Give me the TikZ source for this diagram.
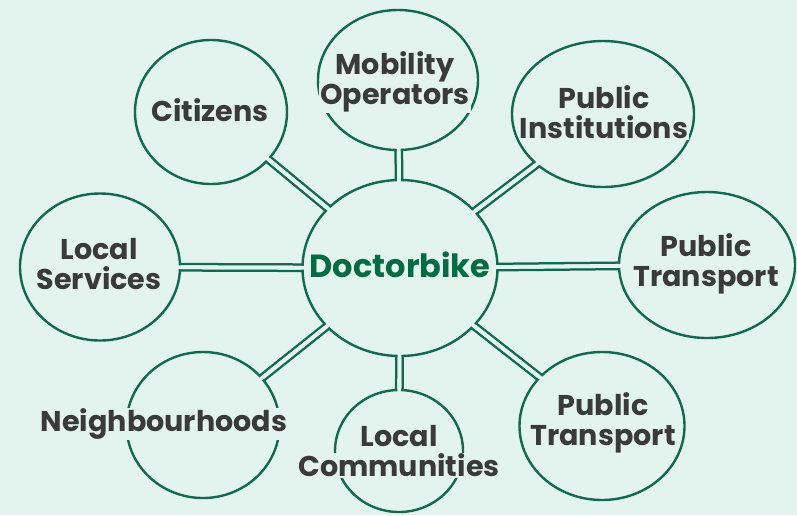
\documentclass[tikz,border=0pt]{standalone}
\usepackage{fontspec}
\setmainfont{Poppins}
\usetikzlibrary{shapes.geometric}
\definecolor{bgc}{HTML}{E3F4EE}
\definecolor{edge}{HTML}{13694F}
\definecolor{txt}{HTML}{3A3A3A}
\definecolor{docg}{HTML}{056B45}
\pgfdeclarelayer{back}\pgfdeclarelayer{front}\pgfsetlayers{back,main,front}
\newcommand\lbx[1]{{\setlength\fboxsep{1pt}\colorbox{bgc}{#1}}}
\begin{document}
\begin{tikzpicture}[x=1pt,y=-1pt,
 bubble/.style={ellipse, draw=edge, fill=bgc, line width=2.4pt, inner sep=0pt, outer sep=0pt},
 tube/.style={draw=edge, line width=2.5pt, double=bgc, double distance=3.8pt},
 gapline/.style={draw=bgc, line width=3.8pt, shorten <=-3pt, shorten >=-3pt},
 lbl/.style={font=\bfseries\fontsize{28.6}{30}\selectfont, text=txt, align=center, inner sep=0pt},
]
\useasboundingbox (0,0) rectangle (797,515);
\begin{pgfonlayer}{back}
 \fill[bgc] (0,0) rectangle (797,515);
\end{pgfonlayer}
% bubbles
\node[bubble, minimum width=195pt, minimum height=176pt] (doc) at (400,268) {};
\node[bubble, minimum width=152pt, minimum height=144pt] (cit) at (211,112) {};
\node[bubble, minimum width=160pt, minimum height=140pt] (mob) at (398,80) {};
\node[bubble, minimum width=182pt, minimum height=146pt] (pin) at (603,114) {};
\node[bubble, minimum width=176pt, minimum height=146pt] (ptr) at (707,265) {};
\node[bubble, minimum width=160pt, minimum height=147pt] (lsv) at (100,267) {};
\node[bubble, minimum width=153pt, minimum height=146pt] (nbh) at (203,425) {};
\node[bubble, minimum width=128pt, minimum height=122pt] (lco) at (399,451) {};
\node[bubble, minimum width=165pt, minimum height=148pt] (ptb) at (602,426) {};
% tubes
\begin{pgfonlayer}{back}
 \foreach \n in {cit,mob,pin,ptr,lsv,nbh,lco,ptb} \path[tube] (doc.center) -- (\n.center);
\end{pgfonlayer}
\begin{pgfonlayer}{front}
 \foreach \n in {cit,mob,pin,ptr,lsv,nbh,lco,ptb} \path[gapline] (doc) -- (\n);
 \node[lbl, font=\bfseries\fontsize{32}{34}\selectfont] (t-doc) at (400,265) {\textcolor{docg}{Doctorbike}};
 \node[lbl] (t-cit) at (210,110) {\lbx{Citizens}};
 \node[lbl] (t-mob) at (395,82) {\lbx{Mobility}\\\lbx{Operators}};
 \node[lbl] (t-pin) at (604,112) {\lbx{Public}\\\lbx{Institutions}};
 \node[lbl] (t-lsv) at (99,264) {\lbx{Local}\\\lbx{Services}};
 \node[lbl] (t-ptr) at (706,264) {\lbx{Public}\\\lbx{Transport}};
 \node[lbl] (t-nbh) at (164,424) {\lbx{Neighbourhoods}};
 \node[lbl] (t-lco) at (399,451) {\lbx{Local}\\\lbx{Communities}};
 \node[lbl] (t-ptb) at (603,423) {\lbx{Public}\\\lbx{Transport}};
\end{pgfonlayer}
\end{tikzpicture}
\end{document}
